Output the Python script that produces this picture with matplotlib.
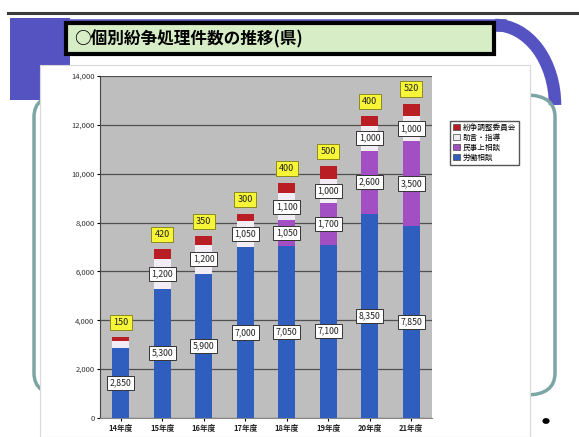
import matplotlib
matplotlib.use("Agg")
import matplotlib.pyplot as plt
from matplotlib.patches import FancyBboxPatch, Rectangle, Arc, Polygon, Patch
import numpy as np

plt.rcParams['font.family'] = ['Noto Sans CJK JP', 'DejaVu Sans']

# ---- data ----
years = ["14年度", "15年度", "16年度", "17年度", "18年度", "19年度", "20年度", "21年度"]
blue_vals = [2850, 5300, 5900, 7000, 7050, 7100, 8350, 7850]
purple_vals = [0, 0, 0, 0, 1050, 1700, 2600, 3500]
white_vals = [300, 1200, 1200, 1050, 1100, 1000, 1000, 1000]
red_vals = [150, 420, 350, 300, 400, 500, 400, 520]
series_names = ["紛争調整委員会", "助言・指導", "民事上相談", "労働相談"]
yticks = [0, 2000, 4000, 6000, 8000, 10000, 12000, 14000]
title = "○個別紛争処理件数の推移(県)"

W, H = 579, 437
fig = plt.figure(figsize=(W / 100, H / 100), dpi=100)
fig.patch.set_facecolor("white")

def fx(x):
    return x / W

def fy(y):
    return 1 - y / H

# ---- slide decoration (drawn below the axes) ----
Z = -10
fig.add_artist(plt.Line2D([fx(8), fx(579)], [fy(13), fy(13)], color="#3a3a3a", lw=2.2, zorder=Z))
purple = "#5552C2"
fig.add_artist(Polygon([[fx(10), fy(18)], [fx(70), fy(18)], [fx(70), fy(100)], [fx(10), fy(100)]],
                       closed=True, facecolor=purple, edgecolor="none", zorder=Z))
fig.add_artist(plt.Line2D([fx(60), fx(500)], [fy(25), fy(25)], color=purple, lw=9, zorder=Z))
arc = Arc((fx(495), fy(105)), fx(120), 160 / H, theta1=0, theta2=90, color=purple, lw=9,
          transform=fig.transFigure, zorder=Z)
fig.add_artist(arc)
teal = "#7DA5A5"
fig.add_artist(FancyBboxPatch((fx(34), fy(395)), fx(521), (395 - 95) / H,
                              boxstyle="round,pad=0,rounding_size=0.05",
                              edgecolor=teal, facecolor="none", lw=2.5,
                              transform=fig.transFigure, zorder=Z))

# white chart area
fig.add_artist(Rectangle((fx(40), fy(437)), fx(490), (437 - 65) / H, facecolor="white",
                         edgecolor="#d8d8d8", lw=0.8, transform=fig.transFigure, zorder=Z + 1))

# title box
tb = FancyBboxPatch((fx(66), fy(54)), fx(428), (54 - 23) / H, boxstyle="square,pad=0",
                    facecolor="#D6EDC6", edgecolor="black", lw=3, transform=fig.transFigure,
                    zorder=Z + 2)
fig.add_artist(tb)
fig.text(fx(74), fy(39), title, fontsize=12, fontweight="bold", va="center", ha="left",
         color="black", zorder=Z + 3)

# black dot
fig.add_artist(plt.Circle((fx(546), fy(421)), 0.005, color="black", transform=fig.transFigure,
                          zorder=Z + 1))

# ---- chart ----
ax = fig.add_axes([fx(100), fy(418), fx(432 - 100), (418 - 76) / H])
ax.set_zorder(5)
ax.set_facecolor("#BEBEBE")
x = np.arange(len(years))
bw = 0.4
c_blue, c_purple, c_white, c_red = "#2F5EBE", "#A34FC4", "#F2ECF4", "#B81E24"

bottom = np.zeros(len(years))
bars_info = []
for vals, col in [(blue_vals, c_blue), (purple_vals, c_purple), (white_vals, c_white), (red_vals, c_red)]:
    v = np.array(vals, dtype=float)
    ax.bar(x, v, bw, bottom=bottom, color=col, edgecolor="none", zorder=3)
    bars_info.append((v, bottom.copy()))
    bottom = bottom + v

ax.set_xlim(-0.5, len(years) - 0.5)
ax.set_ylim(0, 14000)
ax.set_yticks(yticks)
ax.set_yticklabels([f"{t:,}" for t in yticks], fontsize=5.5, color="#333333")
ax.set_xticks(x)
ax.set_xticklabels(years, fontsize=5.5, fontweight="bold", color="#222222")
ax.yaxis.grid(True, color="#505050", lw=0.9, zorder=0)
ax.set_axisbelow(True)
for s in ["top", "right"]:
    ax.spines[s].set_visible(False)
ax.spines["left"].set_color("#444444")
ax.spines["bottom"].set_color("#888888")
ax.tick_params(axis="both", length=2, pad=2)

box_white = dict(boxstyle="square,pad=0.3", facecolor="white", edgecolor="#333333", lw=0.7)
box_yellow = dict(boxstyle="square,pad=0.35", facecolor="#F7F538", edgecolor="#8A8A20", lw=0.7)

# labels for blue, purple, white
for idx in range(3):
    v, b = bars_info[idx]
    for i in range(len(years)):
        if v[i] >= 500:
            ax.text(x[i], b[i] + v[i] / 2, f"{int(v[i]):,}", ha="center", va="center",
                    fontsize=6.3, bbox=box_white, zorder=5, color="#222222")
# red labels (yellow) above bars
v, b = bars_info[3]
for i in range(len(years)):
    ax.text(x[i], b[i] + v[i] + 600, f"{int(v[i]):,}", ha="center", va="center",
            fontsize=6.5, bbox=box_yellow, zorder=5, color="#222222")

# legend
handles = [Patch(facecolor=c_red, edgecolor="#444444", lw=0.5),
           Patch(facecolor=c_white, edgecolor="#444444", lw=0.5),
           Patch(facecolor=c_purple, edgecolor="#444444", lw=0.5),
           Patch(facecolor=c_blue, edgecolor="#444444", lw=0.5)]
leg = fig.legend(handles, series_names, loc="upper left", bbox_to_anchor=(fx(446), fy(117)),
                 fontsize=5.5, handlelength=0.9, handleheight=0.9, handletextpad=0.4,
                 labelspacing=0.25, borderpad=0.4, frameon=True, fancybox=False,
                 edgecolor="#555555", framealpha=1)
leg.set_zorder(10)

fig.savefig("out.png", dpi=100)
